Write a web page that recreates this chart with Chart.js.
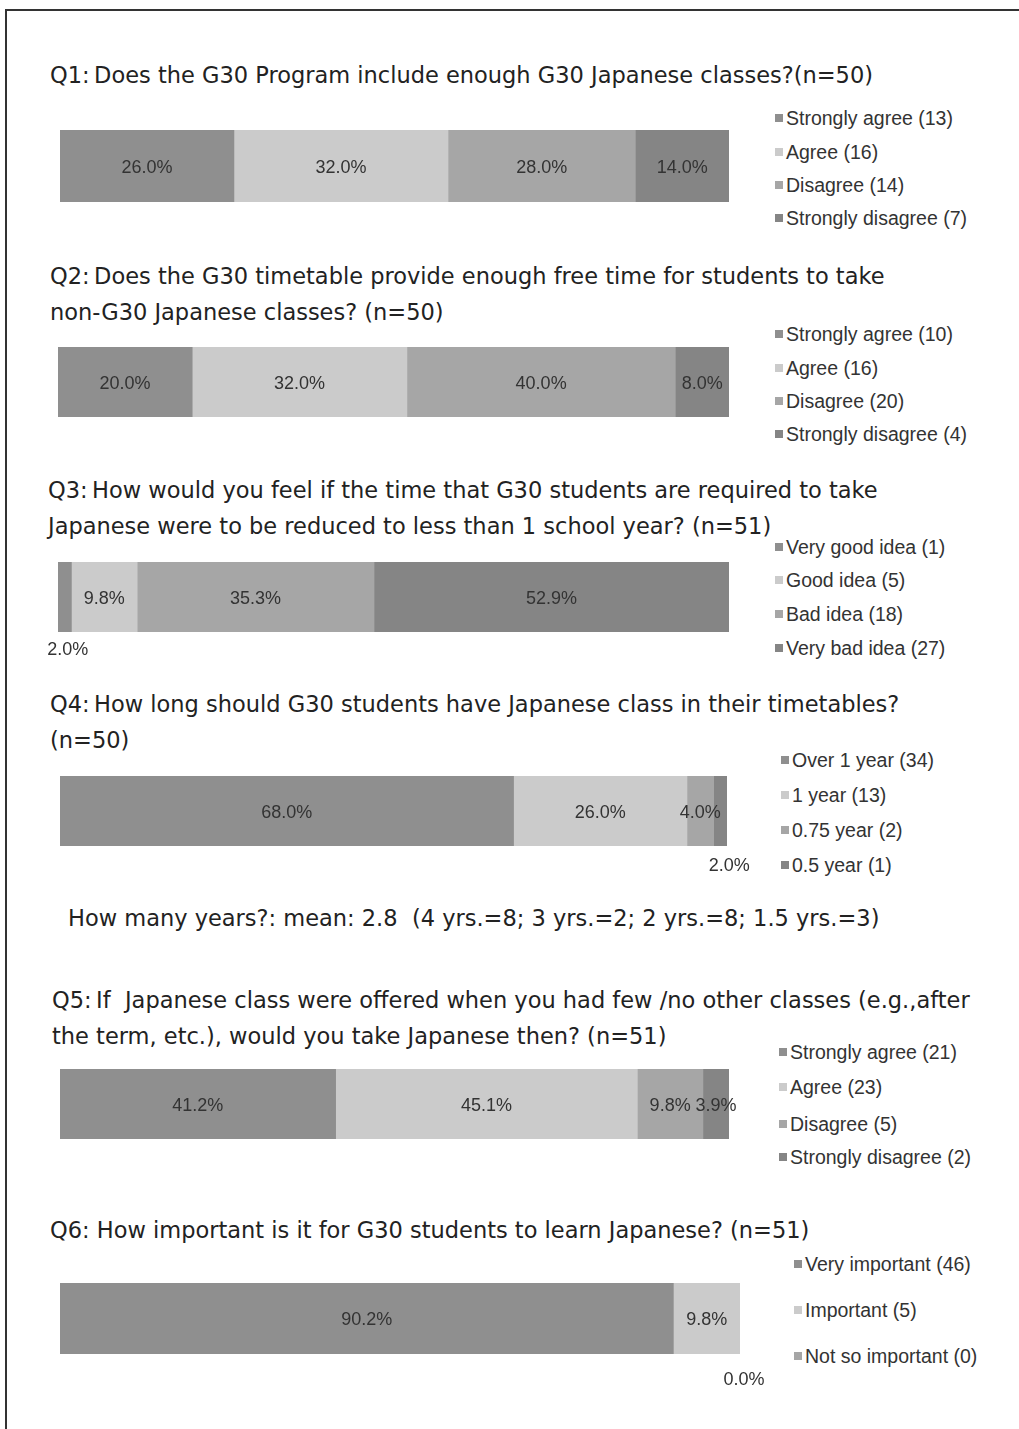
<!DOCTYPE html>
<html>
<head>
<meta charset="utf-8">
<script src="https://cdn.jsdelivr.net/npm/chart.js@4/dist/chart.umd.min.js"></script>
<style>
  body { margin: 0; width: 1019px; height: 1429px; background: #fff; position: relative; overflow: hidden; }
  .frame { position: absolute; left: 5px; top: 9px; width: 1014px; height: 1420px;
           border-top: 2px solid #333; border-left: 2px solid #333; }
  .title { position: absolute; font-family: "DejaVu Sans", sans-serif; font-size: 22.5px;
           line-height: 36px; color: #222; white-space: nowrap; }
  .leg { position: absolute; font-family: "Liberation Sans", sans-serif; font-size: 19.5px;
         line-height: 24px; color: #333; white-space: nowrap; }
  .leg i { position: absolute; left: -11px; top: 8px; width: 8px; height: 8px; }
  canvas { position: absolute; }
</style>
</head>
<body>
<div class="frame"></div>
<script>
// survey data (percent of respondents)
const q1Labels = ['Strongly agree (13)', 'Agree (16)', 'Disagree (14)', 'Strongly disagree (7)'];
const q1Values = [26.0, 32.0, 28.0, 14.0];

const q2Labels = ['Strongly agree (10)', 'Agree (16)', 'Disagree (20)', 'Strongly disagree (4)'];
const q2Values = [20.0, 32.0, 40.0, 8.0];

const q3Labels = ['Very good idea (1)', 'Good idea (5)', 'Bad idea (18)', 'Very bad idea (27)'];
const q3Values = [2.0, 9.8, 35.3, 52.9];

const q4Labels = ['Over 1 year (34)', '1 year (13)', '0.75 year (2)', '0.5 year (1)'];
const q4Values = [68.0, 26.0, 4.0, 2.0];

const q5Labels = ['Strongly agree (21)', 'Agree (23)', 'Disagree (5)', 'Strongly disagree (2)'];
const q5Values = [41.2, 45.1, 9.8, 3.9];

const q6Labels = ['Very important (46)', 'Important (5)', 'Not so important (0)'];
const q6Values = [90.2, 9.8, 0.0];

const colors = ['#8f8f8f', '#cbcbcb', '#a6a6a6', '#858585'];

// titles
const titles = [
  { x: 50, y: 75, lines: ['Q1:\u2009Does the G30 Program include enough G30 Japanese classes?(n=50)'] },
  { x: 50, y: 276, lines: ['Q2:\u2009Does the G30 timetable provide enough free time for students to take', 'non-G30 Japanese classes? (n=50)'] },
  { x: 48, y: 490, lines: ['Q3:\u2009How would you feel if the time that G30 students are required to take', 'Japanese were to be reduced to less than 1 school year? (n=51)'] },
  { x: 50, y: 704, lines: ['Q4:\u2009How long should G30 students have Japanese class in their timetables?', '(n=50)'] },
  { x: 68, y: 918, lines: ['How many years?: mean: 2.8\u00a0\u00a0(4 yrs.=8; 3 yrs.=2; 2 yrs.=8; 1.5 yrs.=3)'] },
  { x: 52, y: 1000, lines: ['Q5:\u2009If\u00a0\u00a0Japanese class were offered when you had few /no other classes (e.g.,after', 'the term, etc.), would you take Japanese then? (n=51)'] },
  { x: 50, y: 1230, lines: ['Q6: How important is it for G30 students to learn Japanese? (n=51)'] }
];

titles.forEach(t => {
  const d = document.createElement('div');
  d.className = 'title';
  d.style.left = t.x + 'px';
  d.style.top = (t.y - 18) + 'px';
  d.innerHTML = t.lines.join('<br>');
  document.body.appendChild(d);
});

// percentage labels on the bars
const barLabels = {
  id: 'barLabels',
  afterDatasetsDraw(chart, args, opts) {
    const ctx = chart.ctx;
    ctx.save();
    ctx.font = '18px "Liberation Sans", Arial, sans-serif';
    ctx.fillStyle = '#333';
    ctx.textAlign = 'center';
    ctx.textBaseline = 'middle';
    chart.data.datasets.forEach((ds, i) => {
      const el = chart.getDatasetMeta(i).data[0];
      let x = (el.x + el.base) / 2;
      let y = el.y + 2;
      const off = (opts.outside || {})[i];
      if (off) {
        x += off[0];
        y = el.y + el.height / 2 + off[1];
      }
      ctx.fillText(ds.data[0].toFixed(1) + '%', x, y);
    });
    ctx.restore();
  }
};

function makeBar(rect, labels, values, outside, legend) {
  const canvas = document.createElement('canvas');
  canvas.width = rect.w + 60;
  canvas.height = rect.h + 60;
  canvas.style.left = (rect.x - 20) + 'px';
  canvas.style.top = (rect.y - 20) + 'px';
  document.body.appendChild(canvas);

  new Chart(canvas.getContext('2d'), {
    type: 'bar',
    data: {
      labels: [''],
      datasets: values.map((v, i) => ({
        label: labels[i],
        data: [v],
        backgroundColor: colors[i],
        borderWidth: 0,
        barPercentage: 1,
        categoryPercentage: 1
      }))
    },
    options: {
      indexAxis: 'y',
      responsive: false,
      animation: false,
      layout: { padding: { left: 20, top: 20, right: 40, bottom: 40 } },
      scales: {
        x: { stacked: true, min: 0, max: 100, display: false },
        y: { stacked: true, display: false }
      },
      plugins: {
        legend: { display: false },
        tooltip: { enabled: false },
        barLabels: { outside: outside }
      }
    },
    plugins: [barLabels]
  });

  labels.forEach((lab, i) => {
    const d = document.createElement('div');
    d.className = 'leg';
    d.style.left = legend.x + 'px';
    d.style.top = (legend.ys[i] - 12) + 'px';
    d.innerHTML = '<i style="background:' + colors[i] + '"></i>' + lab;
    document.body.appendChild(d);
  });
}

makeBar({ x: 60, y: 130, w: 669, h: 72 }, q1Labels, q1Values, {}, { x: 786, ys: [118, 152, 185, 218] });
makeBar({ x: 58, y: 347, w: 671, h: 70 }, q2Labels, q2Values, {}, { x: 786, ys: [334, 368, 401, 434] });
makeBar({ x: 58, y: 562, w: 671, h: 70 }, q3Labels, q3Values, { 0: [3, 18] }, { x: 786, ys: [547, 580, 614, 648] });
makeBar({ x: 60, y: 776, w: 667, h: 70 }, q4Labels, q4Values, { 3: [9, 20] }, { x: 792, ys: [760, 795, 830, 865] });
makeBar({ x: 60, y: 1069, w: 669, h: 70 }, q5Labels, q5Values, {}, { x: 790, ys: [1052, 1087, 1124, 1157] });
makeBar({ x: 60, y: 1283, w: 680, h: 71 }, q6Labels, q6Values, { 2: [4, 26] }, { x: 805, ys: [1264, 1310, 1356] });
</script>
</body>
</html>
